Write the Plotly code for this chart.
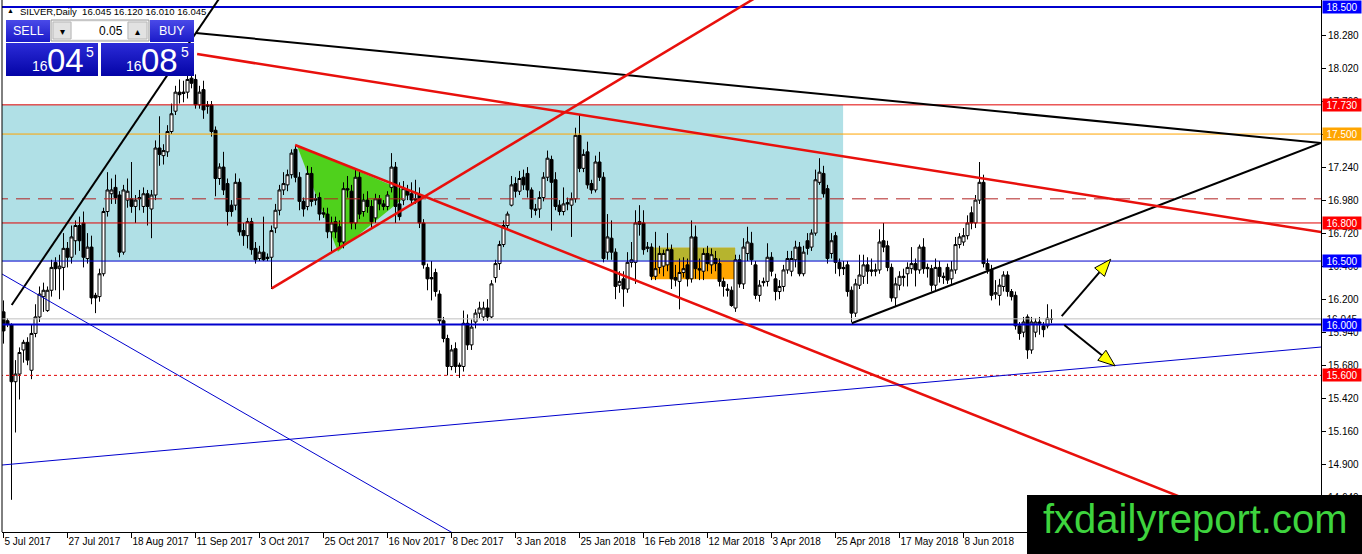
import math
import plotly.graph_objects as go

# ---------------- data ----------------
DATE_TICK_BARS = [0, 16, 32, 48, 64, 80, 96, 112, 128, 144, 160, 176, 192, 208, 224, 240]
DATE_TICK_TEXT = ["5 Jul 2017", "27 Jul 2017", "18 Aug 2017", "11 Sep 2017", "3 Oct 2017",
                  "25 Oct 2017", "16 Nov 2017", "8 Dec 2017", "3 Jan 2018", "25 Jan 2018",
                  "16 Feb 2018", "12 Mar 2018", "3 Apr 2018", "25 Apr 2018", "17 May 2018",
                  "8 Jun 2018"]
PRICE_TICKS = [18.28, 18.02, 17.76, 17.50, 17.24, 16.98, 16.72, 16.46, 16.20, 15.94,
               15.68, 15.42, 15.16, 14.90, 14.64]

bar_open = [
    16.10, 16.03, 16.00, 15.55, 15.61, 15.80, 15.86, 15.64, 15.93, 16.06,
    16.22, 16.11, 16.27, 16.49, 16.44, 16.45, 16.60, 16.53, 16.66, 16.78,
    16.80, 16.52, 16.61, 16.23, 16.22, 16.40, 16.89, 17.03, 17.08, 17.02,
    16.57, 16.98, 16.99, 16.93, 17.00, 16.93, 17.03, 16.91, 17.02, 17.39,
    17.33, 17.36, 17.52, 17.68, 17.83, 17.83, 17.83, 17.94, 17.93, 17.73,
    17.85, 17.73, 17.73, 17.53, 17.15, 17.24, 17.11, 16.94, 16.94, 17.12,
    16.74, 16.70, 16.81, 16.60, 16.52, 16.57, 16.52, 16.53, 16.76, 16.90,
    17.06, 17.10, 17.18, 17.38, 17.16, 16.97, 16.93, 17.19, 16.99, 17.00,
    16.88, 16.87, 16.73, 16.81, 16.77, 16.65, 17.07, 17.05, 16.80, 17.16,
    16.89, 16.98, 16.93, 16.84, 16.99, 16.95, 16.93, 17.08, 17.24, 16.95,
    16.98, 17.06, 17.03, 16.99, 17.02, 16.80, 16.45, 16.37, 16.41, 16.24,
    16.03, 15.89, 15.67, 15.81, 15.67, 15.67, 16.01, 15.84, 16.02, 16.09,
    16.06, 16.13, 16.06, 16.37, 16.48, 16.63, 16.78, 16.94, 17.11, 17.05,
    17.16, 17.19, 17.06, 16.91, 16.91, 17.00, 17.16, 17.30, 17.14, 16.94,
    16.89, 16.96, 16.94, 16.99, 17.49, 17.23, 17.36, 17.11, 17.06, 17.28,
    17.16, 16.57, 16.68, 16.57, 16.31, 16.36, 16.28, 16.49, 16.49, 16.81,
    16.80, 16.60, 16.61, 16.38, 16.45, 16.46, 16.47, 16.59, 16.37, 16.34,
    16.41, 16.47, 16.36, 16.69, 16.44, 16.42, 16.56, 16.47, 16.52, 16.48,
    16.34, 16.28, 16.27, 16.13, 16.51, 16.32, 16.56, 16.64, 16.47, 16.23,
    16.34, 16.34, 16.53, 16.36, 16.26, 16.30, 16.43, 16.42, 16.51, 16.61,
    16.40, 16.66, 16.61, 16.72, 17.12, 17.19, 17.07, 16.56, 16.70, 16.49,
    16.45, 16.47, 16.27, 16.09, 16.31, 16.38, 16.47, 16.43, 16.42, 16.43,
    16.66, 16.62, 16.45, 16.21, 16.31, 16.37, 16.40, 16.44, 16.48, 16.43,
    16.61, 16.45, 16.44, 16.31, 16.45, 16.38, 16.45, 16.36, 16.43, 16.63,
    16.65, 16.70, 16.88, 16.80, 16.98, 17.12, 16.48, 16.43, 16.24, 16.23,
    16.30, 16.39, 16.26, 16.23, 15.99, 15.94, 16.06, 15.80, 15.94, 16.02,
    15.99, 15.99, 16.045]
bar_high = [
    16.19, 16.05, 16.01, 15.72, 15.82, 15.88, 15.90, 16.00, 16.16, 16.30,
    16.33, 16.30, 16.51, 16.53, 16.55, 16.72, 16.65, 16.78, 16.82, 16.85,
    16.89, 16.72, 16.70, 16.25, 16.44, 16.92, 17.20, 17.15, 17.18, 17.05,
    17.10, 17.15, 17.28, 17.02, 17.06, 17.08, 17.06, 17.06, 17.45, 17.64,
    17.42, 17.57, 17.74, 17.88, 17.93, 17.92, 17.98, 17.99, 17.97, 17.88,
    17.92, 17.76, 17.76, 17.56, 17.27, 17.36, 17.15, 16.98, 17.19, 17.15,
    16.80, 16.84, 16.84, 16.65, 16.62, 16.85, 16.56, 16.78, 16.95, 17.10,
    17.20, 17.22, 17.38, 17.41, 17.20, 17.00, 17.25, 17.24, 17.03, 17.04,
    16.92, 16.92, 16.85, 16.85, 16.82, 17.12, 17.17, 17.10, 17.22, 17.20,
    17.03, 17.05, 16.98, 17.03, 17.02, 16.98, 17.05, 17.35, 17.28, 17.12,
    17.13, 17.10, 17.12, 17.14, 17.08, 16.83, 16.48, 16.50, 16.44, 16.27,
    16.06, 15.92, 15.84, 15.86, 15.70, 16.11, 16.08, 16.04, 16.12, 16.18,
    16.18, 16.20, 16.35, 16.51, 16.66, 16.82, 16.89, 17.17, 17.16, 17.21,
    17.22, 17.24, 17.08, 16.95, 17.05, 17.20, 17.37, 17.33, 17.20, 16.98,
    17.08, 17.00, 17.04, 17.55, 17.65, 17.38, 17.44, 17.14, 17.33, 17.36,
    17.20, 16.87, 16.82, 16.60, 16.42, 16.42, 16.57, 16.65, 16.90, 16.94,
    16.90, 16.65, 16.64, 16.73, 16.62, 16.59, 16.72, 16.63, 16.47, 16.52,
    16.53, 16.52, 16.82, 16.78, 16.52, 16.60, 16.62, 16.60, 16.58, 16.52,
    16.37, 16.32, 16.30, 16.55, 16.55, 16.68, 16.77, 16.73, 16.50, 16.35,
    16.37, 16.64, 16.57, 16.40, 16.35, 16.47, 16.58, 16.58, 16.66, 16.65,
    16.62, 16.72, 16.75, 17.22, 17.31, 17.25, 17.10, 16.72, 16.73, 16.52,
    16.50, 16.50, 16.30, 16.36, 16.55, 16.55, 16.53, 16.52, 16.48, 16.75,
    16.80, 16.66, 16.48, 16.37, 16.42, 16.44, 16.49, 16.61, 16.52, 16.63,
    16.68, 16.48, 16.47, 16.52, 16.50, 16.41, 16.48, 16.50, 16.69, 16.72,
    16.76, 16.86, 16.93, 17.02, 17.28, 17.18, 16.52, 16.47, 16.35, 16.36,
    16.42, 16.42, 16.28, 16.26, 16.02, 16.06, 16.08, 16.06, 16.05, 16.06,
    16.02, 16.16, 16.12]
bar_low = [
    15.85, 15.98, 14.62, 15.15, 15.41, 15.70, 15.68, 15.57, 15.90, 16.02,
    16.10, 16.10, 16.22, 16.27, 16.20, 16.27, 16.45, 16.48, 16.55, 16.58,
    16.45, 16.48, 16.16, 16.09, 16.18, 16.38, 16.85, 16.95, 16.95, 16.53,
    16.55, 16.92, 16.88, 16.80, 16.90, 16.88, 16.78, 16.68, 16.98, 17.25,
    17.26, 17.32, 17.50, 17.65, 17.74, 17.75, 17.78, 17.86, 17.70, 17.70,
    17.62, 17.66, 17.48, 17.01, 17.10, 17.02, 16.78, 16.85, 16.90, 16.70,
    16.62, 16.60, 16.55, 16.48, 16.50, 16.50, 16.50, 16.28, 16.72, 16.86,
    17.02, 17.05, 17.15, 17.12, 16.90, 16.85, 16.90, 16.93, 16.94, 16.82,
    16.84, 16.68, 16.57, 16.68, 16.61, 16.60, 17.00, 16.75, 16.75, 16.83,
    16.85, 16.88, 16.76, 16.80, 16.90, 16.90, 16.90, 17.04, 16.80, 16.82,
    16.94, 16.98, 16.95, 16.95, 16.76, 16.44, 16.27, 16.19, 16.22, 16.00,
    15.86, 15.60, 15.64, 15.62, 15.58, 15.63, 15.80, 15.80, 15.97, 16.05,
    16.03, 16.03, 16.05, 16.33, 16.43, 16.61, 16.75, 16.93, 17.00, 17.02,
    17.06, 17.00, 16.84, 16.86, 16.84, 16.97, 17.13, 16.74, 16.90, 16.86,
    16.86, 16.90, 16.69, 16.96, 17.20, 17.20, 17.07, 17.03, 17.04, 17.13,
    16.49, 16.51, 16.51, 16.20, 16.25, 16.14, 16.25, 16.45, 16.32, 16.70,
    16.55, 16.57, 16.35, 16.35, 16.40, 16.38, 16.42, 16.28, 16.30, 16.12,
    16.37, 16.30, 16.33, 16.36, 16.35, 16.35, 16.42, 16.40, 16.42, 16.30,
    16.22, 16.22, 16.14, 16.10, 16.29, 16.28, 16.50, 16.47, 16.20, 16.18,
    16.30, 16.30, 16.38, 16.19, 16.20, 16.26, 16.40, 16.38, 16.45, 16.38,
    16.38, 16.55, 16.58, 16.70, 17.10, 17.00, 16.48, 16.52, 16.40, 16.38,
    16.39, 16.22, 16.02, 16.06, 16.28, 16.32, 16.32, 16.38, 16.38, 16.40,
    16.57, 16.42, 16.18, 16.14, 16.27, 16.30, 16.30, 16.40, 16.30, 16.40,
    16.40, 16.37, 16.26, 16.27, 16.33, 16.32, 16.32, 16.32, 16.40, 16.60,
    16.62, 16.67, 16.75, 16.76, 16.95, 16.45, 16.40, 16.19, 16.20, 16.15,
    16.26, 16.22, 16.19, 15.96, 15.88, 15.90, 15.73, 15.77, 15.90, 15.92,
    15.90, 15.97, 16.01]
bar_close = [
    15.95, 16.00, 15.55, 15.61, 15.78, 15.86, 15.72, 15.93, 16.06, 16.24,
    16.27, 16.27, 16.45, 16.44, 16.46, 16.60, 16.53, 16.69, 16.78, 16.66,
    16.53, 16.61, 16.21, 16.21, 16.40, 16.89, 17.06, 17.06, 17.00, 16.57,
    17.06, 17.05, 16.93, 16.98, 16.99, 17.03, 16.93, 17.02, 17.39, 17.34,
    17.37, 17.52, 17.66, 17.83, 17.81, 17.82, 17.93, 17.90, 17.73, 17.83,
    17.69, 17.72, 17.52, 17.15, 17.24, 17.06, 16.89, 16.89, 17.12, 16.73,
    16.70, 16.81, 16.59, 16.51, 16.57, 16.51, 16.53, 16.74, 16.90, 17.06,
    17.11, 17.18, 17.35, 17.16, 16.97, 16.91, 17.19, 16.97, 16.98, 16.87,
    16.87, 16.73, 16.80, 16.73, 16.65, 17.07, 17.06, 16.80, 17.16, 16.87,
    16.98, 16.93, 16.81, 16.99, 16.95, 16.93, 17.02, 17.24, 16.93, 16.85,
    17.07, 17.02, 16.98, 16.98, 16.80, 16.47, 16.36, 16.36, 16.26, 16.03,
    15.89, 15.67, 15.80, 15.67, 15.68, 16.01, 15.84, 15.98, 16.09, 16.13,
    16.13, 16.06, 16.32, 16.48, 16.63, 16.78, 16.87, 17.10, 17.05, 17.15,
    17.10, 17.06, 16.91, 16.90, 17.00, 17.16, 17.31, 17.12, 16.93, 16.89,
    16.95, 16.95, 16.99, 17.49, 17.23, 17.34, 17.10, 17.06, 17.28, 17.16,
    16.52, 16.69, 16.57, 16.30, 16.34, 16.28, 16.49, 16.51, 16.80, 16.79,
    16.59, 16.61, 16.38, 16.44, 16.56, 16.56, 16.59, 16.36, 16.35, 16.41,
    16.44, 16.36, 16.69, 16.44, 16.43, 16.56, 16.48, 16.55, 16.48, 16.34,
    16.30, 16.27, 16.15, 16.51, 16.32, 16.61, 16.65, 16.51, 16.23, 16.31,
    16.33, 16.53, 16.42, 16.26, 16.30, 16.43, 16.52, 16.52, 16.61, 16.40,
    16.57, 16.60, 16.72, 17.14, 17.20, 17.03, 16.52, 16.66, 16.49, 16.44,
    16.44, 16.26, 16.09, 16.32, 16.39, 16.47, 16.42, 16.42, 16.43, 16.65,
    16.61, 16.45, 16.21, 16.32, 16.38, 16.38, 16.45, 16.48, 16.43, 16.61,
    16.44, 16.44, 16.31, 16.45, 16.38, 16.37, 16.35, 16.43, 16.63, 16.69,
    16.70, 16.80, 16.80, 16.98, 17.12, 16.48, 16.43, 16.23, 16.25, 16.31,
    16.39, 16.26, 16.22, 15.99, 15.93, 16.02, 15.80, 16.02, 16.02, 16.01,
    15.96, 16.05, 16.045]

# horizontal levels
level_price = [18.50, 17.73, 17.50, 16.99, 16.80, 16.50, 16.045, 16.00, 15.60]
level_color = ["#0000CD", "#E00000", "#FFA500", "#B22222", "#E00000", "#0000CD",
               "#C0C0C0", "#0000CD", "#E00000"]
level_width = [2, 1, 1, 1, 1, 1, 1, 2, 1]
level_dash = ["solid", "solid", "solid", "14px,8px", "solid", "solid", "solid", "solid", "3px,3px"]
label_price = [18.50, 17.73, 17.50, 16.80, 16.50, 16.00, 15.60]
label_text = ["18.500", "17.730", "17.500", "16.800", "16.500", "16.000", "15.600"]
label_color = ["#0000FF", "#FF0000", "#FFA500", "#FF0000", "#0000FF", "#0000FF", "#FF0000"]

# trend lines: anchor a -> anchor b (bar index, price)
trend_bar_a = [2.05, 48.1, 212.05, 48.4, 67.05, 72.9, -0.375, -0.375]
trend_price_a = [16.154, 18.296, 16.010, 18.130, 16.285, 17.414, 16.398, 14.894]
trend_bar_b = [48.1, 329.4, 329.4, 329.4, 131.6, 131.6, 66.6, 329.4]
trend_price_b = [18.296, 17.430, 17.430, 16.729, 17.506, 16.679, 15.186, 15.823]
trend_color = ["#000000", "#000000", "#000000", "#E8100C", "#E8100C", "#E8100C", "#0000CD", "#0000CD"]
trend_width = [2, 2, 2, 2.5, 2.5, 2.5, 1, 1]
trend_ray = [True, False, False, False, True, True, True, False]

# zones
zone_bar = [-1.0, 209.9]
zone_price = [16.50, 17.73]
box_bar = [161.8, 182.9]
box_price = [16.356, 16.605]
tri_bar = [73.3, 83.6, 101.6]
tri_price = [17.414, 16.574, 17.036]

# arrows
arrow_tail_bar = [264.55, 265.2]
arrow_tail_price = [16.067, 15.997]
arrow_tip_bar = [276.8, 277.9]
arrow_tip_price = [16.514, 15.674]

# ---------------- geometry of the page ----------------
W, H = 1362, 554
ML, MR, MT, MB = 2, 41, 0, 22
PLOT_W = W - ML - MR
PLOT_H = H - MT - MB
X_RANGE = [-0.375, -0.375 + PLOT_W / 4.0]
PX_PER_PRICE = 127.0
Y_TOP = 18.28 + 35 / PX_PER_PRICE
Y_RANGE = [Y_TOP - PLOT_H / PX_PER_PRICE, Y_TOP]
FONT = "Liberation Sans"

fig = go.Figure()

# candles
idx = list(range(len(bar_open)))
fig.add_trace(go.Candlestick(
    x=idx, open=bar_open, high=bar_high, low=bar_low, close=bar_close,
    increasing=dict(line=dict(color="black", width=1), fillcolor="white"),
    decreasing=dict(line=dict(color="black", width=1), fillcolor="black"),
    whiskerwidth=0, hoverinfo="skip", showlegend=False))

# horizontal levels
for p, c, w, d in zip(level_price, level_color, level_width, level_dash):
    fig.add_trace(go.Scatter(x=[X_RANGE[0] - 2, X_RANGE[1] + 2], y=[p, p], mode="lines",
                             line=dict(color=c, width=w, dash=d), hoverinfo="skip",
                             showlegend=False))

# trend lines
for ba, pa, bb, pb, c, w, ray in zip(trend_bar_a, trend_price_a, trend_bar_b, trend_price_b,
                                     trend_color, trend_width, trend_ray):
    if ray:
        slope = (pb - pa) / (bb - ba)
        bb2 = 420.0
        pb = pa + slope * (bb2 - ba)
        bb = bb2
    fig.add_trace(go.Scatter(x=[ba, bb], y=[pa, pb], mode="lines",
                             line=dict(color=c, width=w), hoverinfo="skip", showlegend=False))

# arrows with yellow heads
for tb, tp, hb, hp in zip(arrow_tail_bar, arrow_tail_price, arrow_tip_bar, arrow_tip_price):
    dx = (hb - tb) * 4.0
    dy = (hp - tp) * PX_PER_PRICE
    L = math.hypot(dx, dy)
    ux, uy = dx / L, dy / L
    nx, ny = -uy, ux
    head_len, head_half = 17.0, 6.5
    bx, by = dx - head_len * ux, dy - head_len * uy
    fig.add_trace(go.Scatter(x=[tb, tb + bx / 4.0], y=[tp, tp + by / PX_PER_PRICE], mode="lines",
                             line=dict(color="black", width=2), hoverinfo="skip",
                             showlegend=False))
    pts = [(dx, dy), (bx + head_half * nx, by + head_half * ny),
           (bx - head_half * nx, by - head_half * ny), (dx, dy)]
    fig.add_trace(go.Scatter(x=[tb + q[0] / 4.0 for q in pts],
                             y=[tp + q[1] / PX_PER_PRICE for q in pts],
                             mode="lines", fill="toself", fillcolor="#FFFF00",
                             line=dict(color="black", width=1), hoverinfo="skip",
                             showlegend=False))

shapes = []
shapes.append(dict(type="rect", xref="x", yref="y", x0=zone_bar[0], x1=zone_bar[1],
                   y0=zone_price[0], y1=zone_price[1], fillcolor="#B0E0E6",
                   line=dict(width=0), layer="below"))
shapes.append(dict(type="rect", xref="x", yref="y", x0=box_bar[0], x1=box_bar[1],
                   y0=box_price[0], y1=box_price[1], fillcolor="#FFA500",
                   line=dict(width=0), layer="below"))
shapes.append(dict(type="rect", xref="x", yref="y", x0=box_bar[0], x1=box_bar[1],
                   y0=zone_price[0], y1=box_price[1], fillcolor="#B6B42E",
                   line=dict(width=0), layer="below"))
tri_path = "M {} {} L {} {} L {} {} Z".format(tri_bar[0], tri_price[0], tri_bar[1], tri_price[1],
                                              tri_bar[2], tri_price[2])
shapes.append(dict(type="path", xref="x", yref="y", path=tri_path, fillcolor="#4FD11C",
                   line=dict(width=0), layer="below"))
# left frame line
shapes.append(dict(type="line", xref="paper", yref="paper", x0=0, x1=0, y0=0, y1=1,
                   line=dict(color="black", width=1)))

# ---------------- one-click trading panel (pixel overlay axes) ----------------
def prect(x0, y0, x1, y1, top, bottom=None, border=None):
    kw = dict(x=[x0, x1, x1, x0, x0], y=[y0, y0, y1, y1, y0], xaxis="x2", yaxis="y2",
              fill="toself", hoverinfo="skip", showlegend=False)
    if border:
        kw["mode"] = "lines"
        kw["line"] = dict(color=border, width=1)
    else:
        kw["mode"] = "none"
    if bottom:
        kw["fillgradient"] = dict(type="vertical", colorscale=[[0, top], [1, bottom]],
                                  start=y0, stop=y1)
    else:
        kw["fillcolor"] = top
    fig.add_trace(go.Scatter(**kw))

prect(6, 20, 50, 42, "#4A4AE8", "#1A1AC8")       # SELL
prect(150, 20, 194, 42, "#4A4AE8", "#1A1AC8")    # BUY
prect(51, 20, 149, 41, "#F2F2F2", None, "#9A9A9A")  # spinner frame
prect(53, 22, 71, 39, "#E2E2E2", None, "#B8B8B8")
prect(72, 22, 127, 39, "#FFFFFF")
prect(128, 22, 147, 39, "#E2E2E2", None, "#B8B8B8")
prect(6, 43, 98, 76, "#2B2BD8", "#0404A6")        # bid box
prect(101, 43, 194, 76, "#2B2BD8", "#0404A6")     # ask box

annotations = []
def ptext(x, y, t, size, color="white", anchor="center", family=FONT):
    annotations.append(dict(xref="x2", yref="y2", x=x, y=y, text=t, showarrow=False,
                            xanchor=anchor, yanchor="middle",
                            font=dict(family=family, size=size, color=color)))

ptext(28, 31, "SELL", 12.5)
ptext(172, 31, "BUY", 12.5)
ptext(125, 31, "0.05", 12, "black", "right")
ptext(62, 31, "▾", 10, "black")
ptext(137.5, 31, "▴", 10, "black")
ptext(30, 66, "16", 14, anchor="left")
ptext(45, 60, "04", 33, anchor="left")
ptext(84, 52, "5", 14, anchor="left")
ptext(124, 66, "16", 14, anchor="left")
ptext(139, 60, "08", 33, anchor="left")
ptext(179, 52, "5", 14, anchor="left")
ptext(10.5, 10.5, "▲", 7, "black")
ptext(18, 11, "SILVER,Daily  16.045 16.120 16.010 16.045", 9.5, "black", "left")

# current bid label (mostly hidden under 16.000)
annotations.append(dict(xref="paper", yref="y", x=1, xshift=1, y=16.045, text="16.045",
                        showarrow=False, xanchor="left", yanchor="middle", bgcolor="white",
                        width=38, height=12, borderpad=0,
                        font=dict(family=FONT, size=10, color="black")))
for p, t, c in zip(label_price, label_text, label_color):
    annotations.append(dict(xref="paper", yref="y", x=1, xshift=1, y=p, text=t,
                            showarrow=False, xanchor="left", yanchor="middle", bgcolor=c,
                            width=38, height=12, borderpad=0,
                            font=dict(family=FONT, size=10, color="white")))

# watermark
def pxp(X):
    return (X - ML) / PLOT_W
def pyp(Y):
    return 1 - (Y - MT) / PLOT_H
shapes.append(dict(type="rect", xref="paper", yref="paper", x0=pxp(1027), x1=pxp(1362),
                   y0=pyp(554), y1=pyp(495), fillcolor="black", line=dict(width=0),
                   layer="above"))
annotations.append(dict(xref="paper", yref="paper", x=pxp(1041), y=pyp(519),
                        text="fxdailyreport.com", showarrow=False, xanchor="left",
                        yanchor="middle", font=dict(family=FONT, size=40, color="#3ED43E")))

fig.update_layout(
    width=W, height=H, margin=dict(l=ML, r=MR, t=MT, b=MB, pad=0, autoexpand=False),
    plot_bgcolor="white", paper_bgcolor="white", showlegend=False,
    boxgap=0.25, boxgroupgap=0, hovermode=False,
    font=dict(family=FONT, size=10, color="black"),
    shapes=shapes, annotations=annotations,
    xaxis=dict(range=X_RANGE, tickmode="array", tickvals=DATE_TICK_BARS, ticktext=DATE_TICK_TEXT,
               ticks="outside", ticklen=5, tickcolor="black", showline=True, linecolor="black",
               linewidth=1, showgrid=False, zeroline=False, ticklabelposition="outside right",
               tickangle=0, automargin=False,
               tickfont=dict(family=FONT, size=10, color="black"),
               rangeslider=dict(visible=False), fixedrange=True),
    yaxis=dict(range=Y_RANGE, side="right", tickmode="array", tickvals=PRICE_TICKS,
               ticktext=["{:.3f}".format(v) for v in PRICE_TICKS], ticks="outside", ticklen=4,
               tickcolor="black", showline=True, linecolor="black", linewidth=1,
               showgrid=False, zeroline=False, automargin=False,
               tickfont=dict(family=FONT, size=10, color="black"), fixedrange=True),
    xaxis2=dict(overlaying="x", anchor="y2", range=[ML, W - MR], visible=False,
                fixedrange=True),
    yaxis2=dict(overlaying="y", anchor="x2", range=[MT + PLOT_H, MT], visible=False,
                fixedrange=True),
)

fig.write_html("out.html", config={"displayModeBar": False, "staticPlot": True},
               post_script="document.body.style.margin='0';document.body.style.overflow='hidden';")
